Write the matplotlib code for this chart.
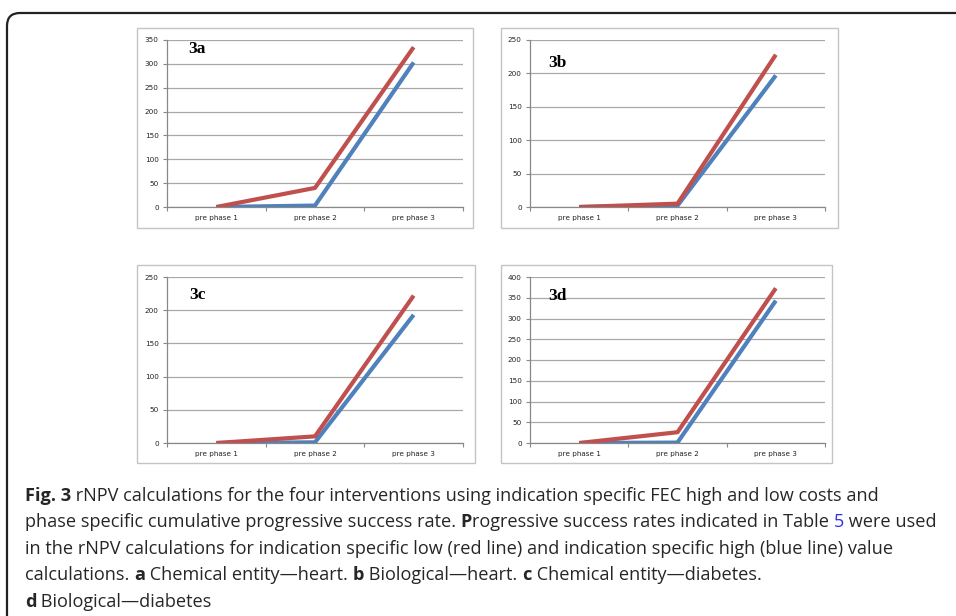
import matplotlib
matplotlib.use("Agg")
import matplotlib.pyplot as plt
from matplotlib.patches import Rectangle, FancyBboxPatch
from matplotlib.transforms import IdentityTransform

W, H = 956, 616

# data
phases = ["pre phase 1", "pre phase 2", "pre phase 3"]
red_3a = [0, 40, 335]
blue_3a = [0, 3, 303]
red_3b = [0, 5, 228]
blue_3b = [0, 2, 197]
red_3c = [0, 10, 222]
blue_3c = [0, 1, 193]
red_3d = [0, 26, 373]
blue_3d = [0, 1, 343]

RED = "#c0504d"
BLUE = "#4f81bd"

fig = plt.figure(figsize=(W / 100, H / 100), dpi=100)


def fx(x):
    return x / W


def fy(y):
    return 1 - y / H


# outer rounded frame (runs off the right and bottom edges)
frame = FancyBboxPatch((7, -40), 1000, H - 13 + 40,
                       boxstyle="round,pad=0,rounding_size=13",
                       transform=IdentityTransform(), fill=False,
                       edgecolor="#222222", lw=1.6)
fig.patches.append(frame)

# (box l, t, r, b), (axes l, t, r, b), ymax, step, label, label pos, red, blue
panels = [
    ((137, 28, 473, 228), (167, 40, 463, 207), 350, 50, "3a", (188, 53), red_3a, blue_3a),
    ((501, 28, 838, 228), (530, 40, 825, 207), 250, 50, "3b", (548, 67), red_3b, blue_3b),
    ((137, 265, 475, 463), (167, 277, 463, 443), 250, 50, "3c", (189, 299), red_3c, blue_3c),
    ((501, 265, 832, 463), (530, 277, 825, 443), 400, 50, "3d", (548, 300), red_3d, blue_3d),
]

for box, rect, ymax, step, lab, lpos, red, blue in panels:
    bl, bt, br, bb = box
    fig.patches.append(Rectangle((fx(bl), fy(bb)), (br - bl) / W, (bb - bt) / H,
                                 transform=fig.transFigure, fill=False,
                                 edgecolor="#c4c4c4", lw=1.0))
    l, t, r, b = rect
    ax = fig.add_axes([fx(l), fy(b), (r - l) / W, (b - t) / H])
    x = range(len(phases))
    ax.plot(x, blue, color=BLUE, lw=3.0, solid_capstyle="butt", zorder=3)
    ax.plot(x, red, color=RED, lw=3.0, solid_capstyle="butt", zorder=4)
    ax.set_xlim(-0.5, len(phases) - 0.5)
    ax.set_ylim(0, ymax)
    ax.set_yticks(range(0, ymax + 1, step))
    ax.set_xticks([i - 0.5 for i in range(len(phases) + 1)])
    ax.set_xticklabels([])
    ax.set_xticks(list(x), minor=True)
    ax.set_xticklabels(phases, minor=True)
    ax.tick_params(axis="x", which="minor", length=0, pad=6, labelsize=5.2)
    ax.tick_params(axis="x", which="major", length=3, color="#888888", direction="out")
    ax.tick_params(axis="y", length=3, color="#888888", pad=3, labelsize=5.2)
    for tl in ax.get_xticklabels(minor=True) + ax.get_yticklabels():
        tl.set_family("DejaVu Sans")
        tl.set_color("#222222")
    ax.grid(axis="y", color="#a8a8a8", lw=0.9)
    ax.set_axisbelow(True)
    for s in ["top", "right"]:
        ax.spines[s].set_visible(False)
    ax.spines["left"].set_color("#888888")
    ax.spines["bottom"].set_color("#888888")
    ax.spines["left"].set_linewidth(0.9)
    ax.spines["bottom"].set_linewidth(0.9)
    fig.text(fx(lpos[0]), fy(lpos[1]), lab, fontsize=12.5, fontweight="bold",
             family="Liberation Serif", va="baseline", ha="left")

# caption, drawn piece by piece so bold / link parts can be mixed
cap_lines = [
    [("Fig. 3", "b"), (" rNPV calculations for the four interventions using indication specific FEC high and low costs and", "n")],
    [("phase specific cumulative progressive success rate. ", "n"), ("P", "b"),
     ("rogressive success rates indicated in Table ", "n"), ("5", "link"), (" were used", "n")],
    [("in the rNPV calculations for indication specific low (red line) and indication specific high (blue line) value", "n")],
    [("calculations. ", "n"), ("a", "b"), (" Chemical entity\u2014heart. ", "n"), ("b", "b"),
     (" Biological\u2014heart. ", "n"), ("c", "b"), (" Chemical entity\u2014diabetes.", "n")],
    [("d", "b"), (" Biological\u2014diabetes", "n")],
]
baselines = [501, 527, 554, 580, 607]

renderer = fig.canvas.get_renderer()
for pieces, yb in zip(cap_lines, baselines):
    xp = 25
    for txt, kind in pieces:
        t = fig.text(fx(xp), fy(yb), txt, fontsize=13.05, family="Open Sans",
                     fontweight="bold" if kind == "b" else "normal",
                     color="#3030e8" if kind == "link" else "#262626",
                     va="baseline", ha="left")
        xp += t.get_window_extent(renderer).width

fig.savefig("out.png", dpi=100)
